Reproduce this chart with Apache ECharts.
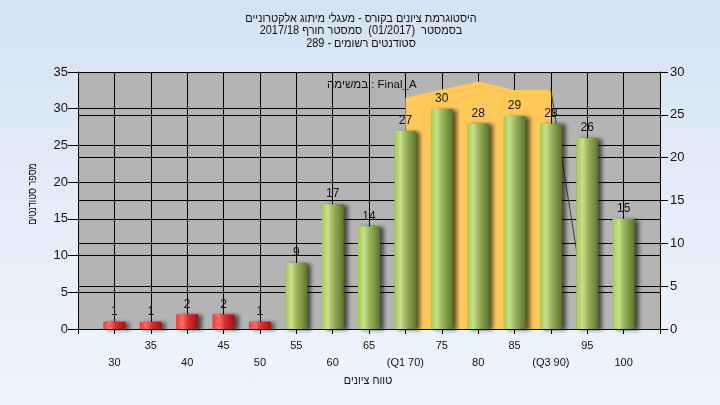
<!DOCTYPE html>
<html>
<head>
<meta charset="utf-8">
<script src="https://cdn.jsdelivr.net/npm/echarts@6/dist/echarts.min.js"></script>
<style>
html,body{margin:0;padding:0;}
#c{width:720px;height:405px;background:linear-gradient(to bottom,#D5E2F3 0%,#E4EDF8 50%,#EFF5FC 100%);}
</style>
</head>
<body>
<div id="c"></div>
<script>
const titleLines = ['היסטוגרמת ציונים בקורס - מעגלי מיתוג אלקטרוניים', 'בסמסטר  (01/2017)  סמסטר חורף 2017/18', 'סטודנטים רשומים - 289'];
const legendText = 'במשימה : Final_A';
const xAxisName = 'טווח ציונים';
const yAxisName = 'מספר סטודנטים';
const scores = [30, 35, 40, 45, 50, 55, 60, 65, 70, 75, 80, 85, 90, 95, 100];
const tickLabels = ['30', '35', '40', '45', '50', '55', '60', '65', '(Q1 70)', '75', '80', '85', '(Q3 90)', '95', '100'];
const counts = [1, 1, 2, 2, 1, 9, 17, 14, 27, 30, 28, 29, 28, 26, 15];
const failLimit = 55;
const bandX = [70, 80, 85, 90];
const bandY = [27, 28.9, 27.9, 27.9];
const lineX = [90, 95];
const lineY = [27.9, 1.3];

const green = {type:'linear',x:0,y:0,x2:1,y2:0,colorStops:[
  {offset:0,color:'#A2CB4C'},{offset:0.28,color:'#C8DF8E'},{offset:0.5,color:'#9DB85E'},{offset:1,color:'#5A752D'}]};
const red = {type:'linear',x:0,y:0,x2:1,y2:0,colorStops:[
  {offset:0,color:'#F23A3A'},{offset:0.28,color:'#FF6A6A'},{offset:0.55,color:'#D83030'},{offset:1,color:'#9A1414'}]};

const barData = scores.map((s, i) => ({
  value: [s, counts[i]],
  itemStyle: {color: s < failLimit ? red : green}
}));

const FONT = '"Liberation Sans", Arial, sans-serif';
const chart = echarts.init(document.getElementById('c'), null, {renderer:'canvas'});
chart.setOption({
  backgroundColor: 'transparent',
  animation: false,
  textStyle: {fontFamily: 'Liberation Sans, Arial, sans-serif'},
  grid: {left: 78, right: 60, top: 72, bottom: 76, show: true, backgroundColor: '#B4B4B4', borderWidth: 0},
  graphic: [
    {type:'text', x: 361, y: 12, scaleX: 0.91, style:{text: titleLines.join('\n'), fill:'#111', font:'12px ' + FONT, lineHeight: 12.5, textAlign:'center'}},
    {type:'text', x: 327, y: 85, style:{text: legendText, fill:'#111', font:'11.5px ' + FONT, textAlign:'left', textVerticalAlign:'middle'}},
    {type:'text', x: 368, y: 381, scaleX: 0.9, style:{text: xAxisName, fill:'#111', font:'12px ' + FONT, textAlign:'center', textVerticalAlign:'middle'}},
    {type:'text', x: 33, y: 194, rotation: Math.PI/2, scaleX: 0.75, style:{x:0, y:0, text: yAxisName, fill:'#111', font:'12px ' + FONT, textAlign:'center', textVerticalAlign:'middle'}}
  ],
  xAxis: {
    type: 'value', min: 25, max: 105, interval: 5,
    axisLine: {show: true, lineStyle: {color:'#000', width:1}},
    axisTick: {show: true, length: 5, lineStyle: {color:'#000'}},
    splitLine: {show: true, lineStyle: {color:'#000', width:1}},
    axisLabel: {
      color:'#111', fontSize: 11, margin: 8, lineHeight: 17,
      formatter: function (v) {
        const i = scores.indexOf(v);
        if (i < 0) return '';
        return i % 2 === 0 ? '\n' + tickLabels[i] : tickLabels[i];
      }
    }
  },
  yAxis: [
    {type:'value', min:0, max:35, interval:5, position:'left',
     axisLine:{show:true, lineStyle:{color:'#000'}},
     axisTick:{show:true, length:10, lineStyle:{color:'#000'}},
     axisLabel:{color:'#111', fontSize:13, margin:10},
     splitLine:{show:true, lineStyle:{color:'#000', width:1}}},
    {type:'value', min:0, max:30, interval:5, position:'right',
     axisLine:{show:true, lineStyle:{color:'#000'}},
     axisTick:{show:true, length:8, lineStyle:{color:'#000'}},
     axisLabel:{color:'#111', fontSize:13, margin:10},
     splitLine:{show:true, lineStyle:{color:'#000', width:1}}}
  ],
  series: [
    {type:'line', z:1, yAxisIndex:1, data: bandX.map((x, i) => [x, bandY[i]]), symbol:'none',
     lineStyle:{width:0}, areaStyle:{color:'#FFC95A', opacity:1}, silent:true},
    {type:'line', z:1, yAxisIndex:1, data: lineX.map((x, i) => [x, lineY[i]]), symbol:'none',
     lineStyle:{width:1, color:'#3A3A3A'}, silent:true},
    {type:'bar', z:3, yAxisIndex:0, data: barData, barWidth: 22,
     itemStyle:{shadowBlur:4, shadowColor:'rgba(0,0,0,0.6)', shadowOffsetX:4, shadowOffsetY:1},
     label:{show:true, position:'top', distance:4, color:'#111', fontSize:12}}
  ]
});
</script>
</body>
</html>
